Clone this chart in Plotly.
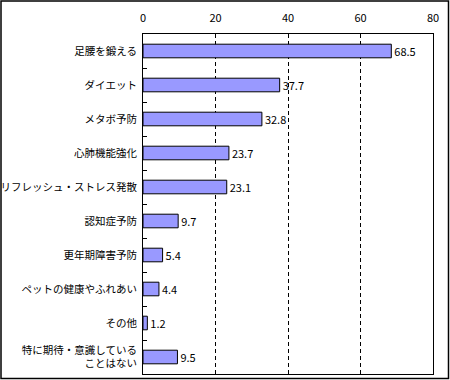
import plotly.graph_objects as go

categories = ["足腰を鍛える", "ダイエット", "メタボ予防", "心肺機能強化",
              "リフレッシュ・ストレス発散", "認知症予防", "更年期障害予防",
              "ペットの健康やふれあい", "その他", "特に期待・意識している<br>ことはない"]
values = [68.5, 37.7, 32.8, 23.7, 23.1, 9.7, 5.4, 4.4, 1.2, 9.5]
x_ticks = [0, 20, 40, 60, 80]

FONT = "Noto Sans CJK JP"
W, H = 450, 380
L, R, T, B = 143, 17, 34, 6

fig = go.Figure(go.Bar(
    y=categories, x=values, orientation="h",
    marker=dict(color="#9999FF", line=dict(color="black", width=1)),
    width=0.4,
    text=[f"{v:.1f}" for v in values], textposition="outside",
    textfont=dict(family=FONT, size=11, color="black"),
    constraintext="none",
    cliponaxis=False,
))

pw, ph = W - L - R, H - T - B
fig.add_shape(type="rect", xref="paper", yref="paper",
              x0=(1 - L) / pw, x1=(W - 1.5 - L) / pw,
              y0=-(B - 1.5) / ph, y1=1 + (T - 1) / ph,
              line=dict(color="black", width=1.5))

fig.update_layout(
    width=W, height=H,
    margin=dict(l=L, r=R, t=T, b=B, autoexpand=False),
    paper_bgcolor="white", plot_bgcolor="white",
    showlegend=False,
    font=dict(family=FONT, size=11, color="black"),
    xaxis=dict(side="top", range=[0, 80], tickvals=x_ticks, automargin=False,
               showgrid=True, gridcolor="black", gridwidth=1, griddash="4px,3px",
               zeroline=False, showline=True, linecolor="black", linewidth=1,
               mirror=True, ticks="", ticklabelstandoff=7,
               tickfont=dict(family=FONT, size=11)),
    yaxis=dict(autorange="reversed", showline=True, linecolor="black", linewidth=1,
               mirror=True, ticks="inside", ticklen=4, tickcolor="black",
               tickson="boundaries", showgrid=False, zeroline=False, automargin=False,
               ticklabelstandoff=3,
               tickfont=dict(family=FONT, size=10.5)),
)

fig.write_html("out.html", config={"displayModeBar": False},
               post_script="document.body.style.margin='0';document.body.style.overflow='hidden';")
